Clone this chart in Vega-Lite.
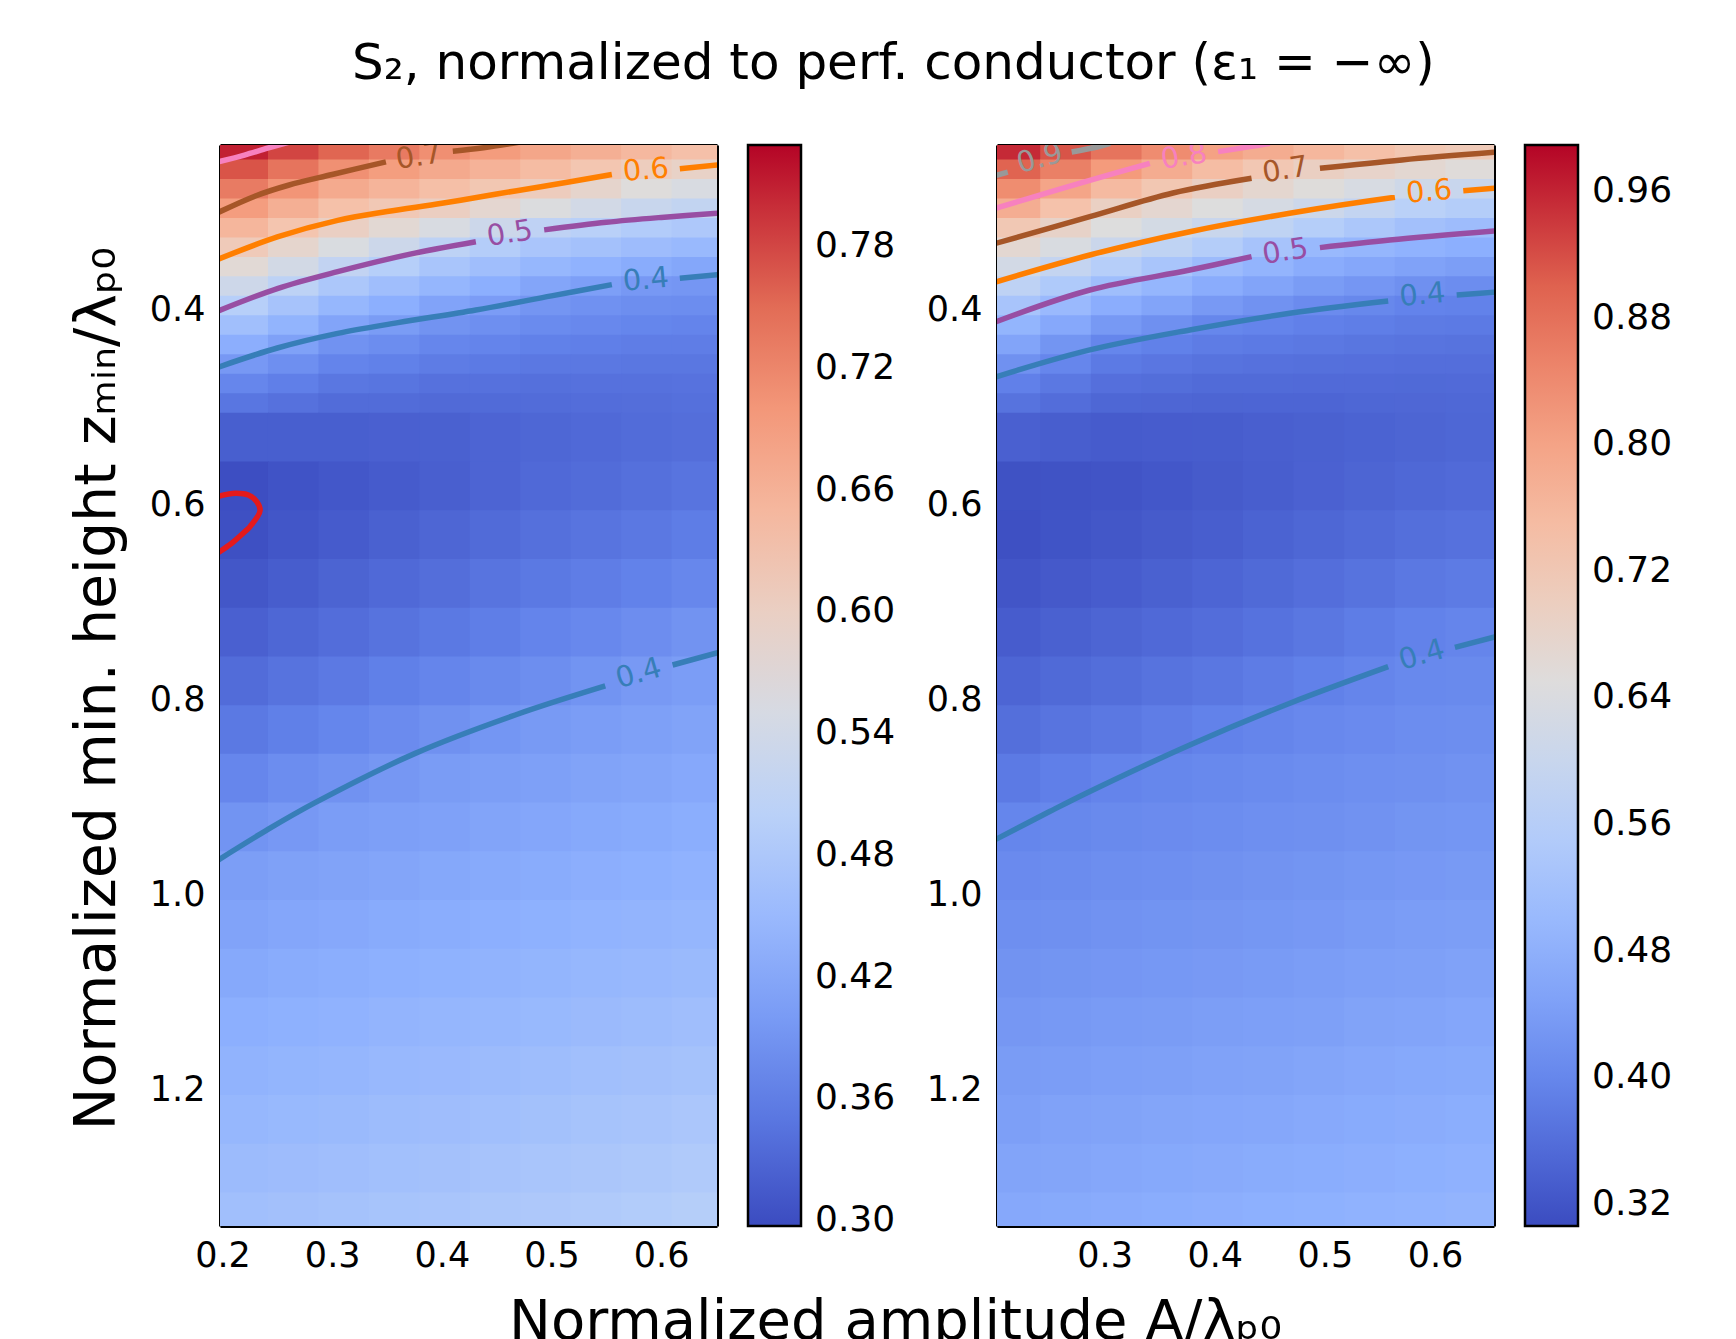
{
"$schema": "https://vega.github.io/schema/vega-lite/v6.json",
"autosize": {"type": "none"},
"padding": {"left": 220, "top": 145, "right": 1516, "bottom": 1194},
"background": "white",
"title": {"text": "S₂, normalized to perf. conductor (ε₁ = −∞)", "anchor": "start", "frame": "group", "dx": 132, "offset": 15, "baseline": "alphabetic", "fontSize": 50, "fontWeight": "normal", "font": "DejaVu Sans", "color": "black"},
"datasets": {
"lt": [
{"a":0.195,"z":0.225,"v":0.810},{"a":0.241,"z":0.225,"v":0.783},{"a":0.287,"z":0.225,"v":0.756},{"a":0.333,"z":0.225,"v":0.733},{"a":0.379,"z":0.225,"v":0.710},{"a":0.425,"z":0.225,"v":0.694},{"a":0.471,"z":0.225,"v":0.678},{"a":0.517,"z":0.225,"v":0.664},{"a":0.563,"z":0.225,"v":0.649},{"a":0.609,"z":0.225,"v":0.636},
{"a":0.195,"z":0.245,"v":0.772},{"a":0.241,"z":0.245,"v":0.740},{"a":0.287,"z":0.245,"v":0.708},{"a":0.333,"z":0.245,"v":0.691},{"a":0.379,"z":0.245,"v":0.673},{"a":0.425,"z":0.245,"v":0.658},{"a":0.471,"z":0.245,"v":0.643},{"a":0.517,"z":0.245,"v":0.625},{"a":0.563,"z":0.245,"v":0.607},{"a":0.609,"z":0.245,"v":0.594},
{"a":0.195,"z":0.265,"v":0.732},{"a":0.241,"z":0.265,"v":0.702},{"a":0.287,"z":0.265,"v":0.671},{"a":0.333,"z":0.265,"v":0.655},{"a":0.379,"z":0.265,"v":0.638},{"a":0.425,"z":0.265,"v":0.623},{"a":0.471,"z":0.265,"v":0.608},{"a":0.517,"z":0.265,"v":0.587},{"a":0.563,"z":0.265,"v":0.566},{"a":0.609,"z":0.265,"v":0.555},
{"a":0.195,"z":0.285,"v":0.692},{"a":0.241,"z":0.285,"v":0.664},{"a":0.287,"z":0.285,"v":0.635},{"a":0.333,"z":0.285,"v":0.619},{"a":0.379,"z":0.285,"v":0.603},{"a":0.425,"z":0.285,"v":0.582},{"a":0.471,"z":0.285,"v":0.560},{"a":0.517,"z":0.285,"v":0.543},{"a":0.563,"z":0.285,"v":0.526},{"a":0.609,"z":0.285,"v":0.515},
{"a":0.195,"z":0.305,"v":0.653},{"a":0.241,"z":0.305,"v":0.627},{"a":0.287,"z":0.305,"v":0.600},{"a":0.333,"z":0.305,"v":0.578},{"a":0.379,"z":0.305,"v":0.555},{"a":0.425,"z":0.305,"v":0.532},{"a":0.471,"z":0.305,"v":0.509},{"a":0.517,"z":0.305,"v":0.499},{"a":0.563,"z":0.305,"v":0.488},{"a":0.609,"z":0.305,"v":0.481},
{"a":0.195,"z":0.325,"v":0.614},{"a":0.241,"z":0.325,"v":0.586},{"a":0.287,"z":0.325,"v":0.557},{"a":0.333,"z":0.325,"v":0.532},{"a":0.379,"z":0.325,"v":0.506},{"a":0.425,"z":0.325,"v":0.491},{"a":0.471,"z":0.325,"v":0.475},{"a":0.517,"z":0.325,"v":0.466},{"a":0.563,"z":0.325,"v":0.456},{"a":0.609,"z":0.325,"v":0.449},
{"a":0.195,"z":0.345,"v":0.574},{"a":0.241,"z":0.345,"v":0.544},{"a":0.287,"z":0.345,"v":0.514},{"a":0.333,"z":0.345,"v":0.494},{"a":0.379,"z":0.345,"v":0.473},{"a":0.425,"z":0.345,"v":0.459},{"a":0.471,"z":0.345,"v":0.445},{"a":0.517,"z":0.345,"v":0.435},{"a":0.563,"z":0.345,"v":0.424},{"a":0.609,"z":0.345,"v":0.417},
{"a":0.195,"z":0.365,"v":0.534},{"a":0.241,"z":0.365,"v":0.506},{"a":0.287,"z":0.365,"v":0.478},{"a":0.333,"z":0.365,"v":0.460},{"a":0.379,"z":0.365,"v":0.442},{"a":0.425,"z":0.365,"v":0.429},{"a":0.471,"z":0.365,"v":0.415},{"a":0.517,"z":0.365,"v":0.406},{"a":0.563,"z":0.365,"v":0.396},{"a":0.609,"z":0.365,"v":0.393},
{"a":0.195,"z":0.385,"v":0.495},{"a":0.241,"z":0.385,"v":0.470},{"a":0.287,"z":0.385,"v":0.445},{"a":0.333,"z":0.385,"v":0.429},{"a":0.379,"z":0.385,"v":0.412},{"a":0.425,"z":0.385,"v":0.402},{"a":0.471,"z":0.385,"v":0.391},{"a":0.517,"z":0.385,"v":0.386},{"a":0.563,"z":0.385,"v":0.381},{"a":0.609,"z":0.385,"v":0.379},
{"a":0.195,"z":0.405,"v":0.462},{"a":0.241,"z":0.405,"v":0.438},{"a":0.287,"z":0.405,"v":0.413},{"a":0.333,"z":0.405,"v":0.401},{"a":0.379,"z":0.405,"v":0.388},{"a":0.425,"z":0.405,"v":0.382},{"a":0.471,"z":0.405,"v":0.376},{"a":0.517,"z":0.405,"v":0.373},{"a":0.563,"z":0.405,"v":0.369},{"a":0.609,"z":0.405,"v":0.367},
{"a":0.195,"z":0.425,"v":0.428},{"a":0.241,"z":0.425,"v":0.408},{"a":0.287,"z":0.425,"v":0.387},{"a":0.333,"z":0.425,"v":0.379},{"a":0.379,"z":0.425,"v":0.370},{"a":0.425,"z":0.425,"v":0.366},{"a":0.471,"z":0.425,"v":0.362},{"a":0.517,"z":0.425,"v":0.360},{"a":0.563,"z":0.425,"v":0.358},{"a":0.609,"z":0.425,"v":0.358},
{"a":0.195,"z":0.445,"v":0.396},{"a":0.241,"z":0.445,"v":0.382},{"a":0.287,"z":0.445,"v":0.367},{"a":0.333,"z":0.445,"v":0.362},{"a":0.379,"z":0.445,"v":0.356},{"a":0.425,"z":0.445,"v":0.354},{"a":0.471,"z":0.445,"v":0.351},{"a":0.517,"z":0.445,"v":0.351},{"a":0.563,"z":0.445,"v":0.350},{"a":0.609,"z":0.445,"v":0.350},
{"a":0.195,"z":0.465,"v":0.370},{"a":0.241,"z":0.465,"v":0.360},{"a":0.287,"z":0.465,"v":0.350},{"a":0.333,"z":0.465,"v":0.347},{"a":0.379,"z":0.465,"v":0.343},{"a":0.425,"z":0.465,"v":0.343},{"a":0.471,"z":0.465,"v":0.342},{"a":0.517,"z":0.465,"v":0.343},{"a":0.563,"z":0.465,"v":0.343},{"a":0.609,"z":0.465,"v":0.344},
{"a":0.195,"z":0.485,"v":0.349},{"a":0.241,"z":0.485,"v":0.343},{"a":0.287,"z":0.485,"v":0.337},{"a":0.333,"z":0.485,"v":0.336},{"a":0.379,"z":0.485,"v":0.334},{"a":0.425,"z":0.485,"v":0.335},{"a":0.471,"z":0.485,"v":0.336},{"a":0.517,"z":0.485,"v":0.338},{"a":0.563,"z":0.485,"v":0.339},{"a":0.609,"z":0.485,"v":0.341}
],
"lb": [
{"a":0.195,"z":0.505,"v":0.320},{"a":0.241,"z":0.505,"v":0.320},{"a":0.287,"z":0.505,"v":0.320},{"a":0.333,"z":0.505,"v":0.322},{"a":0.379,"z":0.505,"v":0.323},{"a":0.425,"z":0.505,"v":0.327},{"a":0.471,"z":0.505,"v":0.330},{"a":0.517,"z":0.505,"v":0.333},{"a":0.563,"z":0.505,"v":0.336},{"a":0.609,"z":0.505,"v":0.339},
{"a":0.195,"z":0.555,"v":0.300},{"a":0.241,"z":0.555,"v":0.306},{"a":0.287,"z":0.555,"v":0.311},{"a":0.333,"z":0.555,"v":0.316},{"a":0.379,"z":0.555,"v":0.321},{"a":0.425,"z":0.555,"v":0.327},{"a":0.471,"z":0.555,"v":0.333},{"a":0.517,"z":0.555,"v":0.337},{"a":0.563,"z":0.555,"v":0.341},{"a":0.609,"z":0.555,"v":0.346},
{"a":0.195,"z":0.605,"v":0.302},{"a":0.241,"z":0.605,"v":0.309},{"a":0.287,"z":0.605,"v":0.316},{"a":0.333,"z":0.605,"v":0.323},{"a":0.379,"z":0.605,"v":0.329},{"a":0.425,"z":0.605,"v":0.335},{"a":0.471,"z":0.605,"v":0.341},{"a":0.517,"z":0.605,"v":0.346},{"a":0.563,"z":0.605,"v":0.351},{"a":0.609,"z":0.605,"v":0.357},
{"a":0.195,"z":0.655,"v":0.310},{"a":0.241,"z":0.655,"v":0.318},{"a":0.287,"z":0.655,"v":0.326},{"a":0.333,"z":0.655,"v":0.333},{"a":0.379,"z":0.655,"v":0.339},{"a":0.425,"z":0.655,"v":0.346},{"a":0.471,"z":0.655,"v":0.352},{"a":0.517,"z":0.655,"v":0.358},{"a":0.563,"z":0.655,"v":0.364},{"a":0.609,"z":0.655,"v":0.371},
{"a":0.195,"z":0.705,"v":0.322},{"a":0.241,"z":0.705,"v":0.330},{"a":0.287,"z":0.705,"v":0.338},{"a":0.333,"z":0.705,"v":0.345},{"a":0.379,"z":0.705,"v":0.352},{"a":0.425,"z":0.705,"v":0.359},{"a":0.471,"z":0.705,"v":0.366},{"a":0.517,"z":0.705,"v":0.373},{"a":0.563,"z":0.705,"v":0.380},{"a":0.609,"z":0.705,"v":0.388},
{"a":0.195,"z":0.755,"v":0.336},{"a":0.241,"z":0.755,"v":0.345},{"a":0.287,"z":0.755,"v":0.353},{"a":0.333,"z":0.755,"v":0.361},{"a":0.379,"z":0.755,"v":0.368},{"a":0.425,"z":0.755,"v":0.375},{"a":0.471,"z":0.755,"v":0.381},{"a":0.517,"z":0.755,"v":0.389},{"a":0.563,"z":0.755,"v":0.397},{"a":0.609,"z":0.755,"v":0.403},
{"a":0.195,"z":0.805,"v":0.352},{"a":0.241,"z":0.805,"v":0.361},{"a":0.287,"z":0.805,"v":0.369},{"a":0.333,"z":0.805,"v":0.377},{"a":0.379,"z":0.805,"v":0.385},{"a":0.425,"z":0.805,"v":0.392},{"a":0.471,"z":0.805,"v":0.398},{"a":0.517,"z":0.805,"v":0.403},{"a":0.563,"z":0.805,"v":0.407},{"a":0.609,"z":0.805,"v":0.411},
{"a":0.195,"z":0.855,"v":0.370},{"a":0.241,"z":0.855,"v":0.379},{"a":0.287,"z":0.855,"v":0.387},{"a":0.333,"z":0.855,"v":0.394},{"a":0.379,"z":0.855,"v":0.401},{"a":0.425,"z":0.855,"v":0.404},{"a":0.471,"z":0.855,"v":0.407},{"a":0.517,"z":0.855,"v":0.411},{"a":0.563,"z":0.855,"v":0.415},{"a":0.609,"z":0.855,"v":0.419},
{"a":0.195,"z":0.905,"v":0.389},{"a":0.241,"z":0.905,"v":0.396},{"a":0.287,"z":0.905,"v":0.403},{"a":0.333,"z":0.905,"v":0.406},{"a":0.379,"z":0.905,"v":0.409},{"a":0.425,"z":0.905,"v":0.413},{"a":0.471,"z":0.905,"v":0.416},{"a":0.517,"z":0.905,"v":0.420},{"a":0.563,"z":0.905,"v":0.423},{"a":0.609,"z":0.905,"v":0.427},
{"a":0.195,"z":0.955,"v":0.404},{"a":0.241,"z":0.955,"v":0.408},{"a":0.287,"z":0.955,"v":0.411},{"a":0.333,"z":0.955,"v":0.415},{"a":0.379,"z":0.955,"v":0.418},{"a":0.425,"z":0.955,"v":0.421},{"a":0.471,"z":0.955,"v":0.424},{"a":0.517,"z":0.955,"v":0.428},{"a":0.563,"z":0.955,"v":0.431},{"a":0.609,"z":0.955,"v":0.435},
{"a":0.195,"z":1.005,"v":0.412},{"a":0.241,"z":1.005,"v":0.416},{"a":0.287,"z":1.005,"v":0.419},{"a":0.333,"z":1.005,"v":0.423},{"a":0.379,"z":1.005,"v":0.426},{"a":0.425,"z":1.005,"v":0.429},{"a":0.471,"z":1.005,"v":0.432},{"a":0.517,"z":1.005,"v":0.436},{"a":0.563,"z":1.005,"v":0.439},{"a":0.609,"z":1.005,"v":0.443},
{"a":0.195,"z":1.055,"v":0.420},{"a":0.241,"z":1.055,"v":0.424},{"a":0.287,"z":1.055,"v":0.427},{"a":0.333,"z":1.055,"v":0.431},{"a":0.379,"z":1.055,"v":0.434},{"a":0.425,"z":1.055,"v":0.437},{"a":0.471,"z":1.055,"v":0.440},{"a":0.517,"z":1.055,"v":0.444},{"a":0.563,"z":1.055,"v":0.447},{"a":0.609,"z":1.055,"v":0.451},
{"a":0.195,"z":1.105,"v":0.429},{"a":0.241,"z":1.105,"v":0.432},{"a":0.287,"z":1.105,"v":0.435},{"a":0.333,"z":1.105,"v":0.439},{"a":0.379,"z":1.105,"v":0.442},{"a":0.425,"z":1.105,"v":0.445},{"a":0.471,"z":1.105,"v":0.448},{"a":0.517,"z":1.105,"v":0.452},{"a":0.563,"z":1.105,"v":0.455},{"a":0.609,"z":1.105,"v":0.459},
{"a":0.195,"z":1.155,"v":0.437},{"a":0.241,"z":1.155,"v":0.440},{"a":0.287,"z":1.155,"v":0.443},{"a":0.333,"z":1.155,"v":0.447},{"a":0.379,"z":1.155,"v":0.450},{"a":0.425,"z":1.155,"v":0.454},{"a":0.471,"z":1.155,"v":0.457},{"a":0.517,"z":1.155,"v":0.461},{"a":0.563,"z":1.155,"v":0.464},{"a":0.609,"z":1.155,"v":0.467},
{"a":0.195,"z":1.205,"v":0.445},{"a":0.241,"z":1.205,"v":0.448},{"a":0.287,"z":1.205,"v":0.451},{"a":0.333,"z":1.205,"v":0.455},{"a":0.379,"z":1.205,"v":0.458},{"a":0.425,"z":1.205,"v":0.462},{"a":0.471,"z":1.205,"v":0.465},{"a":0.517,"z":1.205,"v":0.469},{"a":0.563,"z":1.205,"v":0.472},{"a":0.609,"z":1.205,"v":0.476},
{"a":0.195,"z":1.255,"v":0.453},{"a":0.241,"z":1.255,"v":0.456},{"a":0.287,"z":1.255,"v":0.459},{"a":0.333,"z":1.255,"v":0.463},{"a":0.379,"z":1.255,"v":0.466},{"a":0.425,"z":1.255,"v":0.470},{"a":0.471,"z":1.255,"v":0.473},{"a":0.517,"z":1.255,"v":0.477},{"a":0.563,"z":1.255,"v":0.480},{"a":0.609,"z":1.255,"v":0.484},
{"a":0.195,"z":1.305,"v":0.461},{"a":0.241,"z":1.305,"v":0.464},{"a":0.287,"z":1.305,"v":0.467},{"a":0.333,"z":1.305,"v":0.471},{"a":0.379,"z":1.305,"v":0.474},{"a":0.425,"z":1.305,"v":0.478},{"a":0.471,"z":1.305,"v":0.481},{"a":0.517,"z":1.305,"v":0.485},{"a":0.563,"z":1.305,"v":0.488},{"a":0.609,"z":1.305,"v":0.492}
],
"rt": [
{"a":0.195,"z":0.225,"v":0.955},{"a":0.241,"z":0.225,"v":0.915},{"a":0.287,"z":0.225,"v":0.874},{"a":0.333,"z":0.225,"v":0.839},{"a":0.379,"z":0.225,"v":0.803},{"a":0.425,"z":0.225,"v":0.782},{"a":0.471,"z":0.225,"v":0.760},{"a":0.517,"z":0.225,"v":0.742},{"a":0.563,"z":0.225,"v":0.724},{"a":0.609,"z":0.225,"v":0.713},
{"a":0.195,"z":0.245,"v":0.897},{"a":0.241,"z":0.245,"v":0.857},{"a":0.287,"z":0.245,"v":0.816},{"a":0.333,"z":0.245,"v":0.782},{"a":0.379,"z":0.245,"v":0.748},{"a":0.425,"z":0.245,"v":0.722},{"a":0.471,"z":0.245,"v":0.695},{"a":0.517,"z":0.245,"v":0.682},{"a":0.563,"z":0.245,"v":0.668},{"a":0.609,"z":0.245,"v":0.655},
{"a":0.195,"z":0.265,"v":0.838},{"a":0.241,"z":0.265,"v":0.796},{"a":0.287,"z":0.265,"v":0.754},{"a":0.333,"z":0.265,"v":0.724},{"a":0.379,"z":0.265,"v":0.694},{"a":0.425,"z":0.265,"v":0.673},{"a":0.471,"z":0.265,"v":0.652},{"a":0.517,"z":0.265,"v":0.633},{"a":0.563,"z":0.265,"v":0.613},{"a":0.609,"z":0.265,"v":0.599},
{"a":0.195,"z":0.285,"v":0.779},{"a":0.241,"z":0.285,"v":0.736},{"a":0.287,"z":0.285,"v":0.693},{"a":0.333,"z":0.285,"v":0.671},{"a":0.379,"z":0.285,"v":0.648},{"a":0.425,"z":0.285,"v":0.629},{"a":0.471,"z":0.285,"v":0.609},{"a":0.517,"z":0.285,"v":0.588},{"a":0.563,"z":0.285,"v":0.566},{"a":0.609,"z":0.285,"v":0.554},
{"a":0.195,"z":0.305,"v":0.720},{"a":0.241,"z":0.305,"v":0.684},{"a":0.287,"z":0.305,"v":0.648},{"a":0.333,"z":0.305,"v":0.625},{"a":0.379,"z":0.305,"v":0.601},{"a":0.425,"z":0.305,"v":0.579},{"a":0.471,"z":0.305,"v":0.556},{"a":0.517,"z":0.305,"v":0.538},{"a":0.563,"z":0.305,"v":0.520},{"a":0.609,"z":0.305,"v":0.510},
{"a":0.195,"z":0.325,"v":0.669},{"a":0.241,"z":0.325,"v":0.637},{"a":0.287,"z":0.325,"v":0.604},{"a":0.333,"z":0.325,"v":0.579},{"a":0.379,"z":0.325,"v":0.554},{"a":0.425,"z":0.325,"v":0.528},{"a":0.471,"z":0.325,"v":0.501},{"a":0.517,"z":0.325,"v":0.492},{"a":0.563,"z":0.325,"v":0.482},{"a":0.609,"z":0.325,"v":0.475},
{"a":0.195,"z":0.345,"v":0.622},{"a":0.241,"z":0.345,"v":0.590},{"a":0.287,"z":0.345,"v":0.558},{"a":0.333,"z":0.345,"v":0.532},{"a":0.379,"z":0.345,"v":0.506},{"a":0.425,"z":0.345,"v":0.488},{"a":0.471,"z":0.345,"v":0.470},{"a":0.517,"z":0.345,"v":0.460},{"a":0.563,"z":0.345,"v":0.450},{"a":0.609,"z":0.345,"v":0.443},
{"a":0.195,"z":0.365,"v":0.576},{"a":0.241,"z":0.365,"v":0.545},{"a":0.287,"z":0.365,"v":0.513},{"a":0.333,"z":0.365,"v":0.492},{"a":0.379,"z":0.365,"v":0.470},{"a":0.425,"z":0.365,"v":0.455},{"a":0.471,"z":0.365,"v":0.439},{"a":0.517,"z":0.365,"v":0.429},{"a":0.563,"z":0.365,"v":0.418},{"a":0.609,"z":0.365,"v":0.411},
{"a":0.195,"z":0.385,"v":0.531},{"a":0.241,"z":0.385,"v":0.502},{"a":0.287,"z":0.385,"v":0.472},{"a":0.333,"z":0.385,"v":0.454},{"a":0.379,"z":0.385,"v":0.435},{"a":0.425,"z":0.385,"v":0.422},{"a":0.471,"z":0.385,"v":0.409},{"a":0.517,"z":0.385,"v":0.402},{"a":0.563,"z":0.385,"v":0.394},{"a":0.609,"z":0.385,"v":0.391},
{"a":0.195,"z":0.405,"v":0.489},{"a":0.241,"z":0.405,"v":0.462},{"a":0.287,"z":0.405,"v":0.434},{"a":0.333,"z":0.405,"v":0.417},{"a":0.379,"z":0.405,"v":0.400},{"a":0.425,"z":0.405,"v":0.395},{"a":0.471,"z":0.405,"v":0.389},{"a":0.517,"z":0.405,"v":0.385},{"a":0.563,"z":0.405,"v":0.380},{"a":0.609,"z":0.405,"v":0.379},
{"a":0.195,"z":0.425,"v":0.454},{"a":0.241,"z":0.425,"v":0.426},{"a":0.287,"z":0.425,"v":0.398},{"a":0.333,"z":0.425,"v":0.390},{"a":0.379,"z":0.425,"v":0.382},{"a":0.425,"z":0.425,"v":0.379},{"a":0.471,"z":0.425,"v":0.375},{"a":0.517,"z":0.425,"v":0.372},{"a":0.563,"z":0.425,"v":0.369},{"a":0.609,"z":0.425,"v":0.368},
{"a":0.195,"z":0.445,"v":0.419},{"a":0.241,"z":0.445,"v":0.399},{"a":0.287,"z":0.445,"v":0.379},{"a":0.333,"z":0.445,"v":0.373},{"a":0.379,"z":0.445,"v":0.367},{"a":0.425,"z":0.445,"v":0.365},{"a":0.471,"z":0.445,"v":0.363},{"a":0.517,"z":0.445,"v":0.362},{"a":0.563,"z":0.445,"v":0.360},{"a":0.609,"z":0.445,"v":0.360},
{"a":0.195,"z":0.465,"v":0.389},{"a":0.241,"z":0.465,"v":0.376},{"a":0.287,"z":0.465,"v":0.362},{"a":0.333,"z":0.465,"v":0.359},{"a":0.379,"z":0.465,"v":0.355},{"a":0.425,"z":0.465,"v":0.355},{"a":0.471,"z":0.465,"v":0.354},{"a":0.517,"z":0.465,"v":0.354},{"a":0.563,"z":0.465,"v":0.353},{"a":0.609,"z":0.465,"v":0.354},
{"a":0.195,"z":0.485,"v":0.367},{"a":0.241,"z":0.485,"v":0.358},{"a":0.287,"z":0.485,"v":0.348},{"a":0.333,"z":0.485,"v":0.347},{"a":0.379,"z":0.485,"v":0.345},{"a":0.425,"z":0.485,"v":0.346},{"a":0.471,"z":0.485,"v":0.346},{"a":0.517,"z":0.485,"v":0.348},{"a":0.563,"z":0.485,"v":0.349},{"a":0.609,"z":0.485,"v":0.350}
],
"rb": [
{"a":0.195,"z":0.505,"v":0.338},{"a":0.241,"z":0.505,"v":0.334},{"a":0.287,"z":0.505,"v":0.330},{"a":0.333,"z":0.505,"v":0.332},{"a":0.379,"z":0.505,"v":0.333},{"a":0.425,"z":0.505,"v":0.336},{"a":0.471,"z":0.505,"v":0.339},{"a":0.517,"z":0.505,"v":0.342},{"a":0.563,"z":0.505,"v":0.345},{"a":0.609,"z":0.505,"v":0.348},
{"a":0.195,"z":0.555,"v":0.315},{"a":0.241,"z":0.555,"v":0.317},{"a":0.287,"z":0.555,"v":0.319},{"a":0.333,"z":0.555,"v":0.324},{"a":0.379,"z":0.555,"v":0.329},{"a":0.425,"z":0.555,"v":0.335},{"a":0.471,"z":0.555,"v":0.340},{"a":0.517,"z":0.555,"v":0.345},{"a":0.563,"z":0.555,"v":0.350},{"a":0.609,"z":0.555,"v":0.354},
{"a":0.195,"z":0.605,"v":0.313},{"a":0.241,"z":0.605,"v":0.318},{"a":0.287,"z":0.605,"v":0.323},{"a":0.333,"z":0.605,"v":0.329},{"a":0.379,"z":0.605,"v":0.335},{"a":0.425,"z":0.605,"v":0.342},{"a":0.471,"z":0.605,"v":0.348},{"a":0.517,"z":0.605,"v":0.355},{"a":0.563,"z":0.605,"v":0.361},{"a":0.609,"z":0.605,"v":0.365},
{"a":0.195,"z":0.655,"v":0.321},{"a":0.241,"z":0.655,"v":0.327},{"a":0.287,"z":0.655,"v":0.332},{"a":0.333,"z":0.655,"v":0.339},{"a":0.379,"z":0.655,"v":0.346},{"a":0.425,"z":0.655,"v":0.353},{"a":0.471,"z":0.655,"v":0.360},{"a":0.517,"z":0.655,"v":0.368},{"a":0.563,"z":0.655,"v":0.375},{"a":0.609,"z":0.655,"v":0.380},
{"a":0.195,"z":0.705,"v":0.332},{"a":0.241,"z":0.705,"v":0.339},{"a":0.287,"z":0.705,"v":0.345},{"a":0.333,"z":0.705,"v":0.352},{"a":0.379,"z":0.705,"v":0.358},{"a":0.425,"z":0.705,"v":0.366},{"a":0.471,"z":0.705,"v":0.374},{"a":0.517,"z":0.705,"v":0.383},{"a":0.563,"z":0.705,"v":0.392},{"a":0.609,"z":0.705,"v":0.397},
{"a":0.195,"z":0.755,"v":0.346},{"a":0.241,"z":0.755,"v":0.353},{"a":0.287,"z":0.755,"v":0.359},{"a":0.333,"z":0.755,"v":0.367},{"a":0.379,"z":0.755,"v":0.374},{"a":0.425,"z":0.755,"v":0.382},{"a":0.471,"z":0.755,"v":0.390},{"a":0.517,"z":0.755,"v":0.397},{"a":0.563,"z":0.755,"v":0.404},{"a":0.609,"z":0.755,"v":0.406},
{"a":0.195,"z":0.805,"v":0.361},{"a":0.241,"z":0.805,"v":0.369},{"a":0.287,"z":0.805,"v":0.376},{"a":0.333,"z":0.805,"v":0.384},{"a":0.379,"z":0.805,"v":0.391},{"a":0.425,"z":0.805,"v":0.397},{"a":0.471,"z":0.805,"v":0.403},{"a":0.517,"z":0.805,"v":0.407},{"a":0.563,"z":0.805,"v":0.411},{"a":0.609,"z":0.805,"v":0.413},
{"a":0.195,"z":0.855,"v":0.379},{"a":0.241,"z":0.855,"v":0.387},{"a":0.287,"z":0.855,"v":0.395},{"a":0.333,"z":0.855,"v":0.400},{"a":0.379,"z":0.855,"v":0.404},{"a":0.425,"z":0.855,"v":0.408},{"a":0.471,"z":0.855,"v":0.411},{"a":0.517,"z":0.855,"v":0.415},{"a":0.563,"z":0.855,"v":0.418},{"a":0.609,"z":0.855,"v":0.421},
{"a":0.195,"z":0.905,"v":0.398},{"a":0.241,"z":0.905,"v":0.402},{"a":0.287,"z":0.905,"v":0.406},{"a":0.333,"z":0.905,"v":0.409},{"a":0.379,"z":0.905,"v":0.412},{"a":0.425,"z":0.905,"v":0.415},{"a":0.471,"z":0.905,"v":0.418},{"a":0.517,"z":0.905,"v":0.422},{"a":0.563,"z":0.905,"v":0.426},{"a":0.609,"z":0.905,"v":0.428},
{"a":0.195,"z":0.955,"v":0.407},{"a":0.241,"z":0.955,"v":0.410},{"a":0.287,"z":0.955,"v":0.413},{"a":0.333,"z":0.955,"v":0.416},{"a":0.379,"z":0.955,"v":0.419},{"a":0.425,"z":0.955,"v":0.423},{"a":0.471,"z":0.955,"v":0.426},{"a":0.517,"z":0.955,"v":0.430},{"a":0.563,"z":0.955,"v":0.433},{"a":0.609,"z":0.955,"v":0.436},
{"a":0.195,"z":1.005,"v":0.415},{"a":0.241,"z":1.005,"v":0.418},{"a":0.287,"z":1.005,"v":0.421},{"a":0.333,"z":1.005,"v":0.424},{"a":0.379,"z":1.005,"v":0.427},{"a":0.425,"z":1.005,"v":0.430},{"a":0.471,"z":1.005,"v":0.433},{"a":0.517,"z":1.005,"v":0.437},{"a":0.563,"z":1.005,"v":0.441},{"a":0.609,"z":1.005,"v":0.443},
{"a":0.195,"z":1.055,"v":0.423},{"a":0.241,"z":1.055,"v":0.426},{"a":0.287,"z":1.055,"v":0.429},{"a":0.333,"z":1.055,"v":0.432},{"a":0.379,"z":1.055,"v":0.435},{"a":0.425,"z":1.055,"v":0.438},{"a":0.471,"z":1.055,"v":0.441},{"a":0.517,"z":1.055,"v":0.445},{"a":0.563,"z":1.055,"v":0.448},{"a":0.609,"z":1.055,"v":0.450},
{"a":0.195,"z":1.105,"v":0.431},{"a":0.241,"z":1.105,"v":0.434},{"a":0.287,"z":1.105,"v":0.437},{"a":0.333,"z":1.105,"v":0.440},{"a":0.379,"z":1.105,"v":0.443},{"a":0.425,"z":1.105,"v":0.446},{"a":0.471,"z":1.105,"v":0.448},{"a":0.517,"z":1.105,"v":0.452},{"a":0.563,"z":1.105,"v":0.455},{"a":0.609,"z":1.105,"v":0.458},
{"a":0.195,"z":1.155,"v":0.439},{"a":0.241,"z":1.155,"v":0.442},{"a":0.287,"z":1.155,"v":0.445},{"a":0.333,"z":1.155,"v":0.448},{"a":0.379,"z":1.155,"v":0.450},{"a":0.425,"z":1.155,"v":0.453},{"a":0.471,"z":1.155,"v":0.456},{"a":0.517,"z":1.155,"v":0.460},{"a":0.563,"z":1.155,"v":0.463},{"a":0.609,"z":1.155,"v":0.465},
{"a":0.195,"z":1.205,"v":0.446},{"a":0.241,"z":1.205,"v":0.450},{"a":0.287,"z":1.205,"v":0.453},{"a":0.333,"z":1.205,"v":0.456},{"a":0.379,"z":1.205,"v":0.458},{"a":0.425,"z":1.205,"v":0.461},{"a":0.471,"z":1.205,"v":0.464},{"a":0.517,"z":1.205,"v":0.467},{"a":0.563,"z":1.205,"v":0.470},{"a":0.609,"z":1.205,"v":0.473},
{"a":0.195,"z":1.255,"v":0.454},{"a":0.241,"z":1.255,"v":0.457},{"a":0.287,"z":1.255,"v":0.460},{"a":0.333,"z":1.255,"v":0.463},{"a":0.379,"z":1.255,"v":0.466},{"a":0.425,"z":1.255,"v":0.469},{"a":0.471,"z":1.255,"v":0.471},{"a":0.517,"z":1.255,"v":0.474},{"a":0.563,"z":1.255,"v":0.477},{"a":0.609,"z":1.255,"v":0.480},
{"a":0.195,"z":1.305,"v":0.462},{"a":0.241,"z":1.305,"v":0.465},{"a":0.287,"z":1.305,"v":0.468},{"a":0.333,"z":1.305,"v":0.471},{"a":0.379,"z":1.305,"v":0.474},{"a":0.425,"z":1.305,"v":0.477},{"a":0.471,"z":1.305,"v":0.479},{"a":0.517,"z":1.305,"v":0.482},{"a":0.563,"z":1.305,"v":0.485},{"a":0.609,"z":1.305,"v":0.488}
],
"cl": [
{"p":"L","s":"L3","lev":"0.3","i":0,"a":0.196,"z":0.5912},{"p":"L","s":"L3","lev":"0.3","i":1,"a":0.2114,"z":0.588},{"p":"L","s":"L3","lev":"0.3","i":2,"a":0.2235,"z":0.5898},{"p":"L","s":"L3","lev":"0.3","i":3,"a":0.2312,"z":0.5967},{"p":"L","s":"L3","lev":"0.3","i":4,"a":0.2342,"z":0.606},{"p":"L","s":"L3","lev":"0.3","i":5,"a":0.2251,"z":0.6223},{"p":"L","s":"L3","lev":"0.3","i":6,"a":0.2205,"z":0.6274},{"p":"L","s":"L3","lev":"0.3","i":7,"a":0.2084,"z":0.6394},{"p":"L","s":"L3","lev":"0.3","i":8,"a":0.196,"z":0.649},
{"p":"L","s":"L4a1","lev":"0.4","i":0,"a":0.196,"z":0.4587},{"p":"L","s":"L4a1","lev":"0.4","i":1,"a":0.25,"z":0.439},{"p":"L","s":"L4a1","lev":"0.4","i":2,"a":0.305,"z":0.424},{"p":"L","s":"L4a1","lev":"0.4","i":3,"a":0.36,"z":0.413},{"p":"L","s":"L4a1","lev":"0.4","i":4,"a":0.431,"z":0.400},{"p":"L","s":"L4a1","lev":"0.4","i":5,"a":0.50,"z":0.3855},{"p":"L","s":"L4a1","lev":"0.4","i":6,"a":0.555,"z":0.374},
{"p":"L","s":"L4a2","lev":"0.4","i":0,"a":0.617,"z":0.3675},{"p":"L","s":"L4a2","lev":"0.4","i":1,"a":0.655,"z":0.3635},
{"p":"L","s":"L51","lev":"0.5","i":0,"a":0.196,"z":0.401},{"p":"L","s":"L51","lev":"0.5","i":1,"a":0.25,"z":0.378},{"p":"L","s":"L51","lev":"0.5","i":2,"a":0.305,"z":0.3607},{"p":"L","s":"L51","lev":"0.5","i":3,"a":0.37,"z":0.343},{"p":"L","s":"L51","lev":"0.5","i":4,"a":0.431,"z":0.330},
{"p":"L","s":"L52","lev":"0.5","i":0,"a":0.4933,"z":0.3178},{"p":"L","s":"L52","lev":"0.5","i":1,"a":0.55,"z":0.310},{"p":"L","s":"L52","lev":"0.5","i":2,"a":0.60,"z":0.305},{"p":"L","s":"L52","lev":"0.5","i":3,"a":0.655,"z":0.3005},
{"p":"L","s":"L61","lev":"0.6","i":0,"a":0.196,"z":0.348},{"p":"L","s":"L61","lev":"0.6","i":1,"a":0.25,"z":0.325},{"p":"L","s":"L61","lev":"0.6","i":2,"a":0.305,"z":0.308},{"p":"L","s":"L61","lev":"0.6","i":3,"a":0.35,"z":0.299},{"p":"L","s":"L61","lev":"0.6","i":4,"a":0.40,"z":0.2905},{"p":"L","s":"L61","lev":"0.6","i":5,"a":0.45,"z":0.281},{"p":"L","s":"L61","lev":"0.6","i":6,"a":0.493,"z":0.273},{"p":"L","s":"L61","lev":"0.6","i":7,"a":0.555,"z":0.261},
{"p":"L","s":"L62","lev":"0.6","i":0,"a":0.617,"z":0.255},{"p":"L","s":"L62","lev":"0.6","i":1,"a":0.655,"z":0.2507},
{"p":"L","s":"L71","lev":"0.7","i":0,"a":0.196,"z":0.300},{"p":"L","s":"L71","lev":"0.7","i":1,"a":0.23,"z":0.283},{"p":"L","s":"L71","lev":"0.7","i":2,"a":0.26,"z":0.272},{"p":"L","s":"L71","lev":"0.7","i":3,"a":0.30,"z":0.261},{"p":"L","s":"L71","lev":"0.7","i":4,"a":0.349,"z":0.248},
{"p":"L","s":"L72","lev":"0.7","i":0,"a":0.41,"z":0.237},{"p":"L","s":"L72","lev":"0.7","i":1,"a":0.438,"z":0.2335},{"p":"L","s":"L72","lev":"0.7","i":2,"a":0.47,"z":0.228},
{"p":"L","s":"L8","lev":"0.8","i":0,"a":0.196,"z":0.248},{"p":"L","s":"L8","lev":"0.8","i":1,"a":0.22,"z":0.241},{"p":"L","s":"L8","lev":"0.8","i":2,"a":0.241,"z":0.234},{"p":"L","s":"L8","lev":"0.8","i":3,"a":0.26,"z":0.228},
{"p":"L","s":"L4l1","lev":"0.4","i":0,"a":0.196,"z":0.9645},{"p":"L","s":"L4l1","lev":"0.4","i":1,"a":0.24,"z":0.934},{"p":"L","s":"L4l1","lev":"0.4","i":2,"a":0.2844,"z":0.9056},{"p":"L","s":"L4l1","lev":"0.4","i":3,"a":0.3757,"z":0.855},{"p":"L","s":"L4l1","lev":"0.4","i":4,"a":0.4669,"z":0.8156},{"p":"L","s":"L4l1","lev":"0.4","i":5,"a":0.549,"z":0.7858},
{"p":"L","s":"L4l2","lev":"0.4","i":0,"a":0.6104,"z":0.7643},{"p":"L","s":"L4l2","lev":"0.4","i":1,"a":0.655,"z":0.7505},
{"p":"R","s":"R91","lev":"0.9","i":0,"a":0.199,"z":0.2625},{"p":"R","s":"R91","lev":"0.9","i":1,"a":0.212,"z":0.2585},
{"p":"R","s":"R92","lev":"0.9","i":0,"a":0.27,"z":0.2378},{"p":"R","s":"R92","lev":"0.9","i":1,"a":0.29,"z":0.2335},{"p":"R","s":"R92","lev":"0.9","i":2,"a":0.305,"z":0.229},
{"p":"R","s":"R81","lev":"0.8","i":0,"a":0.199,"z":0.2963},{"p":"R","s":"R81","lev":"0.8","i":1,"a":0.25,"z":0.279},{"p":"R","s":"R81","lev":"0.8","i":2,"a":0.2865,"z":0.267},{"p":"R","s":"R81","lev":"0.8","i":3,"a":0.341,"z":0.2495},
{"p":"R","s":"R82","lev":"0.8","i":0,"a":0.403,"z":0.2375},{"p":"R","s":"R82","lev":"0.8","i":1,"a":0.432,"z":0.2324},{"p":"R","s":"R82","lev":"0.8","i":2,"a":0.45,"z":0.229},
{"p":"R","s":"R71","lev":"0.7","i":0,"a":0.199,"z":0.3323},{"p":"R","s":"R71","lev":"0.7","i":1,"a":0.2865,"z":0.3043},{"p":"R","s":"R71","lev":"0.7","i":2,"a":0.362,"z":0.280},{"p":"R","s":"R71","lev":"0.7","i":3,"a":0.4334,"z":0.2649},
{"p":"R","s":"R72","lev":"0.7","i":0,"a":0.4955,"z":0.2546},{"p":"R","s":"R72","lev":"0.7","i":1,"a":0.57,"z":0.246},{"p":"R","s":"R72","lev":"0.7","i":2,"a":0.656,"z":0.238},
{"p":"R","s":"R61","lev":"0.6","i":0,"a":0.199,"z":0.3719},{"p":"R","s":"R61","lev":"0.6","i":1,"a":0.2865,"z":0.3436},{"p":"R","s":"R61","lev":"0.6","i":2,"a":0.3773,"z":0.3197},{"p":"R","s":"R61","lev":"0.6","i":3,"a":0.468,"z":0.3008},{"p":"R","s":"R61","lev":"0.6","i":4,"a":0.5636,"z":0.2844},
{"p":"R","s":"R62","lev":"0.6","i":0,"a":0.6257,"z":0.2776},{"p":"R","s":"R62","lev":"0.6","i":1,"a":0.656,"z":0.2749},
{"p":"R","s":"R51","lev":"0.5","i":0,"a":0.199,"z":0.413},{"p":"R","s":"R51","lev":"0.5","i":1,"a":0.2865,"z":0.3795},{"p":"R","s":"R51","lev":"0.5","i":2,"a":0.3773,"z":0.359},{"p":"R","s":"R51","lev":"0.5","i":3,"a":0.4334,"z":0.3453},
{"p":"R","s":"R52","lev":"0.5","i":0,"a":0.4955,"z":0.336},{"p":"R","s":"R52","lev":"0.5","i":1,"a":0.559,"z":0.3282},{"p":"R","s":"R52","lev":"0.5","i":2,"a":0.656,"z":0.3187},
{"p":"R","s":"R4a1","lev":"0.4","i":0,"a":0.199,"z":0.4694},{"p":"R","s":"R4a1","lev":"0.4","i":1,"a":0.2865,"z":0.441},{"p":"R","s":"R4a1","lev":"0.4","i":2,"a":0.3773,"z":0.4205},{"p":"R","s":"R4a1","lev":"0.4","i":3,"a":0.468,"z":0.4034},{"p":"R","s":"R4a1","lev":"0.4","i":4,"a":0.5575,"z":0.3908},
{"p":"R","s":"R4a2","lev":"0.4","i":0,"a":0.6197,"z":0.3846},{"p":"R","s":"R4a2","lev":"0.4","i":1,"a":0.656,"z":0.3816},
{"p":"R","s":"R4l1","lev":"0.4","i":0,"a":0.199,"z":0.9445},{"p":"R","s":"R4l1","lev":"0.4","i":1,"a":0.25,"z":0.9147},{"p":"R","s":"R4l1","lev":"0.4","i":2,"a":0.2865,"z":0.8941},{"p":"R","s":"R4l1","lev":"0.4","i":3,"a":0.3773,"z":0.8464},{"p":"R","s":"R4l1","lev":"0.4","i":4,"a":0.4682,"z":0.8035},{"p":"R","s":"R4l1","lev":"0.4","i":5,"a":0.5575,"z":0.766},
{"p":"R","s":"R4l2","lev":"0.4","i":0,"a":0.6181,"z":0.7462},{"p":"R","s":"R4l2","lev":"0.4","i":1,"a":0.656,"z":0.735}
],
"lab": [
{"p":"L","k":"L4a","lev":"0.4","a":0.586,"z":0.369},
{"p":"L","k":"L5","lev":"0.5","a":0.462,"z":0.3215},
{"p":"L","k":"L6","lev":"0.6","a":0.586,"z":0.2565},
{"p":"L","k":"L7","lev":"0.7","a":0.379,"z":0.2426},
{"p":"L","k":"L4l","lev":"0.4","a":0.5794,"z":0.7728},
{"p":"R","k":"R9","lev":"0.9","a":0.241,"z":0.2443},
{"p":"R","k":"R8","lev":"0.8","a":0.372,"z":0.2425},
{"p":"R","k":"R7","lev":"0.7","a":0.464,"z":0.2563},
{"p":"R","k":"R6","lev":"0.6","a":0.5947,"z":0.2786},
{"p":"R","k":"R5","lev":"0.5","a":0.464,"z":0.340},
{"p":"R","k":"R4a","lev":"0.4","a":0.5886,"z":0.3846},
{"p":"R","k":"R4l","lev":"0.4","a":0.588,"z":0.754}
]
},
"spacing": 280,
"bounds": "flush",
"resolve": {"scale": {"x": "independent", "y": "independent", "fill": "independent", "color": "independent"}, "legend": {"fill": "independent"}},
"hconcat": [
{
"width": 497, "height": 1081,
"resolve": {"axis": {"x": "independent", "y": "independent"}},
"layer": [
{"data": {"name": "lt"}, "mark": {"type": "rect", "clip": true, "binSpacing": 0},
 "encoding": {
  "x": {"field": "a", "type": "quantitative", "bin": {"binned": true, "step": 0.047}, "scale": {"domain": [0.1977, 0.6509], "nice": false, "zero": false},
        "axis": {"orient": "bottom", "values": [0.2, 0.3, 0.4, 0.5, 0.6], "format": ".1f", "labelPadding": 22, "title": "Normalized amplitude A/λₚ₀", "titleX": 675, "titleY": 68, "titleAlign": "center", "titleBaseline": "top", "titleAnchor": null}},
  "y": {"field": "z", "type": "quantitative", "bin": {"binned": true, "step": 0.021}, "scale": {"domain": [0.2307, 1.34], "nice": false, "zero": false, "reverse": true},
        "axis": {"orient": "left", "values": [0.4, 0.6, 0.8, 1.0, 1.2], "format": ".1f", "labelPadding": 25, "title": "Normalized min. height zₘᵢₙ/λₚ₀", "titleX": -94, "titleY": 543, "titleAngle": -90, "titleAlign": "center", "titleBaseline": "bottom", "titleAnchor": null, "titleFontSize": 57}},
  "fill": {"field": "v", "type": "quantitative", "scale": {"domain": [0.297, 0.3636, 0.4303, 0.4969, 0.5635, 0.6301, 0.6968, 0.7634, 0.83], "range": ["#3b4cc0", "#6282ea", "#8db0fe", "#b8d0f9", "#dddddd", "#f5c4ad", "#f49a7b", "#de604d", "#b40426"], "interpolate": "rgb"},
           "legend": {"type": "gradient", "orient": "none", "legendX": 528, "legendY": 0, "direction": "vertical", "gradientLength": 1081, "gradientThickness": 53, "title": null, "values": [0.30, 0.36, 0.42, 0.48, 0.54, 0.60, 0.66, 0.72, 0.78], "format": ".2f", "labelOffset": 14, "padding": 0, "offset": 0}}
 }},
{"data": {"name": "lb"}, "mark": {"type": "rect", "clip": true, "binSpacing": 0},
 "encoding": {
  "x": {"field": "a", "type": "quantitative", "bin": {"binned": true, "step": 0.047}, "axis": null},
  "y": {"field": "z", "type": "quantitative", "bin": {"binned": true, "step": 0.051}, "axis": null},
  "fill": {"field": "v", "type": "quantitative", "legend": null}
 }},
{"data": {"name": "cl"}, "transform": [{"filter": "datum.p == 'L'"}], "mark": {"type": "line", "clip": true, "strokeWidth": 5.5, "interpolate": "catmull-rom", "strokeCap": "butt"},
 "encoding": {
  "x": {"field": "a", "type": "quantitative", "axis": {"orient": "top", "values": [0.2, 0.3, 0.4, 0.5, 0.6], "labels": false, "title": null}},
  "y": {"field": "z", "type": "quantitative", "axis": {"orient": "right", "values": [0.4, 0.6, 0.8, 1.0, 1.2], "labels": false, "title": null}},
  "color": {"field": "lev", "type": "nominal", "scale": {"domain": ["0.3", "0.4", "0.5", "0.6", "0.7", "0.8", "0.9"], "range": ["#e41a1c", "#377eb8", "#984ea3", "#ff7f00", "#a65628", "#f781bf", "#999999"]}, "legend": null},
  "detail": {"field": "s"},
  "order": {"field": "i", "type": "quantitative"}
 }},
{"data": {"name": "lab"}, "transform": [{"filter": "datum.p == 'L' && indexof(['L4a','L6','R6','R4a'], datum.k) >= 0"}], "mark": {"type": "text", "clip": true, "fontSize": 29, "angle": 355, "align": "center", "baseline": "middle"},
 "encoding": {"x": {"field": "a", "type": "quantitative", "axis": null}, "y": {"field": "z", "type": "quantitative", "axis": null}, "text": {"field": "lev"}, "color": {"field": "lev", "type": "nominal", "legend": null}}},
{"data": {"name": "lab"}, "transform": [{"filter": "datum.p == 'L' && indexof(['L5','L7','R8','R7','R5'], datum.k) >= 0"}], "mark": {"type": "text", "clip": true, "fontSize": 29, "angle": 351, "align": "center", "baseline": "middle"},
 "encoding": {"x": {"field": "a", "type": "quantitative", "axis": null}, "y": {"field": "z", "type": "quantitative", "axis": null}, "text": {"field": "lev"}, "color": {"field": "lev", "type": "nominal", "legend": null}}},
{"data": {"name": "lab"}, "transform": [{"filter": "datum.p == 'L' && indexof(['L4l','R4l','R9'], datum.k) >= 0"}], "mark": {"type": "text", "clip": true, "fontSize": 29, "angle": 344, "align": "center", "baseline": "middle"},
 "encoding": {"x": {"field": "a", "type": "quantitative", "axis": null}, "y": {"field": "z", "type": "quantitative", "axis": null}, "text": {"field": "lev"}, "color": {"field": "lev", "type": "nominal", "legend": null}}}
]
},
{
"width": 497, "height": 1081,
"resolve": {"axis": {"x": "independent", "y": "independent"}},
"layer": [
{"data": {"name": "rt"}, "mark": {"type": "rect", "clip": true, "binSpacing": 0},
 "encoding": {
  "x": {"field": "a", "type": "quantitative", "bin": {"binned": true, "step": 0.047}, "scale": {"domain": [0.2022, 0.6536], "nice": false, "zero": false},
        "axis": {"orient": "bottom", "values": [0.3, 0.4, 0.5, 0.6], "format": ".1f", "labelPadding": 22, "title": null}},
  "y": {"field": "z", "type": "quantitative", "bin": {"binned": true, "step": 0.021}, "scale": {"domain": [0.2307, 1.34], "nice": false, "zero": false, "reverse": true},
        "axis": {"orient": "left", "values": [0.4, 0.6, 0.8, 1.0, 1.2], "format": ".1f", "labelPadding": 25, "title": null}},
  "fill": {"field": "v", "type": "quantitative", "scale": {"domain": [0.306, 0.3914, 0.4768, 0.5621, 0.6475, 0.7329, 0.8183, 0.9036, 0.989], "range": ["#3b4cc0", "#6282ea", "#8db0fe", "#b8d0f9", "#dddddd", "#f5c4ad", "#f49a7b", "#de604d", "#b40426"], "interpolate": "rgb"},
           "legend": {"type": "gradient", "orient": "none", "legendX": 528, "legendY": 0, "direction": "vertical", "gradientLength": 1081, "gradientThickness": 53, "title": null, "values": [0.32, 0.40, 0.48, 0.56, 0.64, 0.72, 0.80, 0.88, 0.96], "format": ".2f", "labelOffset": 14, "padding": 0, "offset": 0}}
 }},
{"data": {"name": "rb"}, "mark": {"type": "rect", "clip": true, "binSpacing": 0},
 "encoding": {
  "x": {"field": "a", "type": "quantitative", "bin": {"binned": true, "step": 0.047}, "axis": null},
  "y": {"field": "z", "type": "quantitative", "bin": {"binned": true, "step": 0.051}, "axis": null},
  "fill": {"field": "v", "type": "quantitative", "legend": null}
 }},
{"data": {"name": "cl"}, "transform": [{"filter": "datum.p == 'R'"}], "mark": {"type": "line", "clip": true, "strokeWidth": 5.5, "interpolate": "catmull-rom", "strokeCap": "butt"},
 "encoding": {
  "x": {"field": "a", "type": "quantitative", "axis": {"orient": "top", "values": [0.3, 0.4, 0.5, 0.6], "labels": false, "title": null}},
  "y": {"field": "z", "type": "quantitative", "axis": {"orient": "right", "values": [0.4, 0.6, 0.8, 1.0, 1.2], "labels": false, "title": null}},
  "color": {"field": "lev", "type": "nominal", "scale": {"domain": ["0.3", "0.4", "0.5", "0.6", "0.7", "0.8", "0.9"], "range": ["#e41a1c", "#377eb8", "#984ea3", "#ff7f00", "#a65628", "#f781bf", "#999999"]}, "legend": null},
  "detail": {"field": "s"},
  "order": {"field": "i", "type": "quantitative"}
 }},
{"data": {"name": "lab"}, "transform": [{"filter": "datum.p == 'R' && indexof(['L4a','L6','R6','R4a'], datum.k) >= 0"}], "mark": {"type": "text", "clip": true, "fontSize": 29, "angle": 355, "align": "center", "baseline": "middle"},
 "encoding": {"x": {"field": "a", "type": "quantitative", "axis": null}, "y": {"field": "z", "type": "quantitative", "axis": null}, "text": {"field": "lev"}, "color": {"field": "lev", "type": "nominal", "legend": null}}},
{"data": {"name": "lab"}, "transform": [{"filter": "datum.p == 'R' && indexof(['L5','L7','R8','R7','R5'], datum.k) >= 0"}], "mark": {"type": "text", "clip": true, "fontSize": 29, "angle": 351, "align": "center", "baseline": "middle"},
 "encoding": {"x": {"field": "a", "type": "quantitative", "axis": null}, "y": {"field": "z", "type": "quantitative", "axis": null}, "text": {"field": "lev"}, "color": {"field": "lev", "type": "nominal", "legend": null}}},
{"data": {"name": "lab"}, "transform": [{"filter": "datum.p == 'R' && indexof(['L4l','R4l','R9'], datum.k) >= 0"}], "mark": {"type": "text", "clip": true, "fontSize": 29, "angle": 344, "align": "center", "baseline": "middle"},
 "encoding": {"x": {"field": "a", "type": "quantitative", "axis": null}, "y": {"field": "z", "type": "quantitative", "axis": null}, "text": {"field": "lev"}, "color": {"field": "lev", "type": "nominal", "legend": null}}}
]
}
],
"config": {
 "font": "DejaVu Sans",
 "view": {"stroke": null},
 "axis": {"labelFont": "DejaVu Sans", "labelFontSize": 35, "labelColor": "black", "labelFlush": false, "labelOverlap": false, "tickColor": "black", "tickWidth": 2, "tickSize": -10, "domainColor": "black", "domainWidth": 3, "grid": false, "titleFont": "DejaVu Sans", "titleFontSize": 56, "titleFontWeight": "normal", "titleColor": "black", "zindex": 1},
 "legend": {"labelFont": "DejaVu Sans", "labelFontSize": 36, "labelColor": "black", "gradientStrokeColor": "black", "gradientStrokeWidth": 2.5, "labelOverlap": false},
 "text": {"font": "DejaVu Sans"}
}
}
